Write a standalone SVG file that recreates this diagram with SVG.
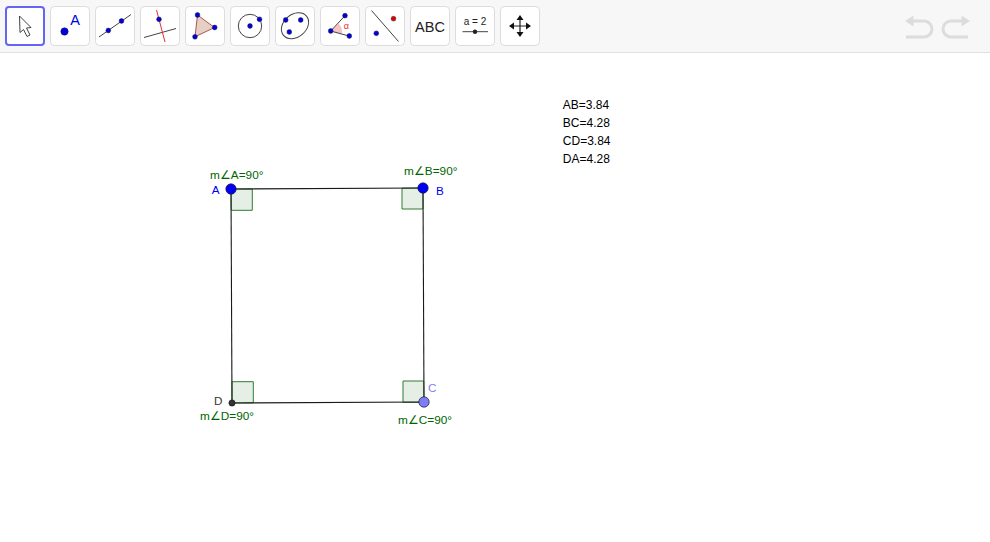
<svg xmlns="http://www.w3.org/2000/svg" width="990" height="542" viewBox="0 0 990 542">
<style>
text{font-family:"Liberation Sans",Arial,sans-serif}
.btn{fill:#fff;stroke:#dcdcdc;stroke-width:1}
.p{fill:#0000e0;stroke:#1a1a3a;stroke-width:.5}
.l{stroke:#444;stroke-width:1;fill:none}
.ang{fill:#e5efe5;stroke:#2e7d32;stroke-width:1}
.g{fill:#006400;font-size:11.8px}
.m{fill:#000;font-size:12px}
.side{stroke:#1a1a1a;stroke-width:1.1;fill:none}
.undo{fill:none;stroke:#dcdcdc;stroke-width:3}
</style>
<rect width="990" height="542" fill="#fff"/>
<g id="toolbar">
<rect width="990" height="52" fill="#f7f7f7"/>
<rect y="52" width="990" height="1" fill="#dfdfdf"/>
<g id="tool-move"><rect x="6" y="7" width="38" height="38" rx="3" fill="#fff" stroke="#6565f5" stroke-width="2"/><path d="M19.500 16 L31 27.500 L26.500 28 L30 35 L27 36.500 L23.500 29.500 L20 32.500Z" fill="#fff" stroke="#444" stroke-width="1"/></g>
<g id="tool-point"><rect class="btn" x="50.500" y="6.500" width="39" height="39" rx="4"/><circle class="p" cx="64.500" cy="31.500" r="3.700"/><text x="70.300" y="25.300" font-size="14.500" fill="#0000e0">A</text></g>
<g id="tool-line"><rect class="btn" x="95.500" y="6.500" width="39" height="39" rx="4"/><path class="l" d="M99 37 L131 14.500"/><circle class="p" cx="108.300" cy="30.500" r="2.400"/><circle class="p" cx="121.500" cy="21" r="2.400"/></g>
<g id="tool-perp"><rect class="btn" x="140.500" y="6.500" width="39" height="39" rx="4"/><path class="l" d="M144 37.500 L176 28.500"/><path d="M156.500 10 L165 42" stroke="#e53030" stroke-width="1" fill="none"/><circle class="p" cx="159" cy="19.300" r="2.400"/></g>
<g id="tool-polygon"><rect class="btn" x="185.500" y="6.500" width="39" height="39" rx="4"/><path d="M197.500 15 L214.500 27.500 L195 36.800Z" fill="#e8cfc6" stroke="#a85a4a" stroke-width="1"/><circle class="p" cx="197.500" cy="15" r="2.400"/><circle class="p" cx="214.700" cy="27.500" r="2.400"/><circle class="p" cx="195" cy="36.800" r="2.400"/></g>
<g id="tool-circle"><rect class="btn" x="230.500" y="6.500" width="39" height="39" rx="4"/><circle class="l" cx="250" cy="26" r="11.700"/><circle class="p" cx="250" cy="26" r="2.400"/><circle class="p" cx="259.500" cy="19.300" r="2.400"/></g>
<g id="tool-ellipse"><rect class="btn" x="275.500" y="6.500" width="39" height="39" rx="4"/><ellipse class="l" cx="295" cy="25.700" rx="15" ry="11.300" transform="rotate(-40 295 25.700)"/><circle class="p" cx="285.700" cy="20" r="2.400"/><circle class="p" cx="300.700" cy="20" r="2.400"/><circle class="p" cx="289.300" cy="32" r="2.400"/></g>
<g id="tool-angle"><rect class="btn" x="320.500" y="6.500" width="39" height="39" rx="4"/><path d="M330.700 31 L338.500 23.500 A12 12 0 0 1 342 34Z" fill="#f6c4c4"/><path class="l" d="M345 15.700 L330.700 31 L349 36"/><circle class="p" cx="345" cy="15.700" r="2.400"/><circle class="p" cx="330.700" cy="31" r="2.400"/><circle class="p" cx="349.300" cy="36" r="2.400"/><text x="343.800" y="29" font-size="9" fill="#e53030">α</text></g>
<g id="tool-reflect"><rect class="btn" x="365.500" y="6.500" width="39" height="39" rx="4"/><path class="l" d="M371.500 10.500 L398.500 41.500"/><circle cx="393.500" cy="18.700" r="2.400" fill="#e00000" stroke="#333" stroke-width=".5"/><circle class="p" cx="376.300" cy="33.300" r="2.400"/></g>
<g id="tool-text"><rect class="btn" x="410.500" y="6.500" width="39" height="39" rx="4"/><text x="430" y="31.500" font-size="14.500" text-anchor="middle" fill="#222">ABC</text></g>
<g id="tool-slider"><rect class="btn" x="455.500" y="6.500" width="39" height="39" rx="4"/><text x="475" y="25" font-size="10" text-anchor="middle" fill="#222">a = 2</text><path class="l" d="M462.500 31.700 H488"/><circle cx="475" cy="31.700" r="2.200" fill="#222"/></g>
<g id="tool-pan"><rect class="btn" x="500.500" y="6.500" width="39" height="39" rx="4"/><path d="M520 18 V34 M512 26 H528" stroke="#222" stroke-width="1.200" fill="none"/><path d="M520 15 L523.500 20 H516.500Z M520 37 L523.500 32 H516.500Z M509 26 L514 22.500 V29.500Z M531 26 L526 22.500 V29.500Z" fill="#111"/></g>
<g id="undo"><path class="undo" d="M911 21 H924 A8 8 0 0 1 924 37 H906"/><path d="M905 21 L913.500 15.500 V26.500Z" fill="#dcdcdc"/></g>
<g id="redo"><path class="undo" d="M964 21 H951 A8 8 0 0 0 951 37 H968"/><path d="M970 21 L961.500 15.500 V26.500Z" fill="#dcdcdc"/></g>
</g>
<g id="angle-markers">
<path class="ang" d="M231 189 H252.300 V210.300 H231.200Z"/>
<path class="ang" d="M423 188 V209 H402 V188.200Z"/>
<path class="ang" d="M424 402.300 H403 V381 H423.800Z"/>
<path class="ang" d="M232 403 V381.700 H253.300 V402.800Z"/>
</g>
<g id="connectors">
<path class="side" d="M231 189 L423 188"/>
<path class="side" d="M423 188 L424 402"/>
<path class="side" d="M424 402 L232 403"/>
<path class="side" d="M232 403 L231 189"/>
</g>
<g id="node-A"><circle cx="231" cy="189" r="5.200" fill="#0000f5" stroke="#1a1a3a" stroke-width=".7"/><text x="211.700" y="194" font-size="11.700" fill="#0000f5">A</text><text class="g" x="210" y="179">m∠A=90°</text></g>
<g id="node-B"><circle cx="423" cy="188" r="5.200" fill="#0000f5" stroke="#1a1a3a" stroke-width=".7"/><text x="436" y="195" font-size="11.700" fill="#0000f5">B</text><text class="g" x="404" y="175">m∠B=90°</text></g>
<g id="node-C"><circle cx="424" cy="402" r="5.200" fill="#7d7df5" stroke="#1a1a3a" stroke-width=".7"/><text x="428" y="392" font-size="11.700" fill="#7d7df5">C</text><text class="g" x="398" y="424">m∠C=90°</text></g>
<g id="node-D"><circle cx="232" cy="403" r="3.100" fill="#333" stroke="#111" stroke-width=".7"/><text x="214" y="405" font-size="11.700" fill="#333">D</text><text class="g" x="200" y="420">m∠D=90°</text></g>
<g id="measures">
<text class="m" x="562.800" y="109">AB=3.84</text>
<text class="m" x="562.800" y="127">BC=4.28</text>
<text class="m" x="562.800" y="145">CD=3.84</text>
<text class="m" x="562.800" y="163">DA=4.28</text>
</g>
</svg>
